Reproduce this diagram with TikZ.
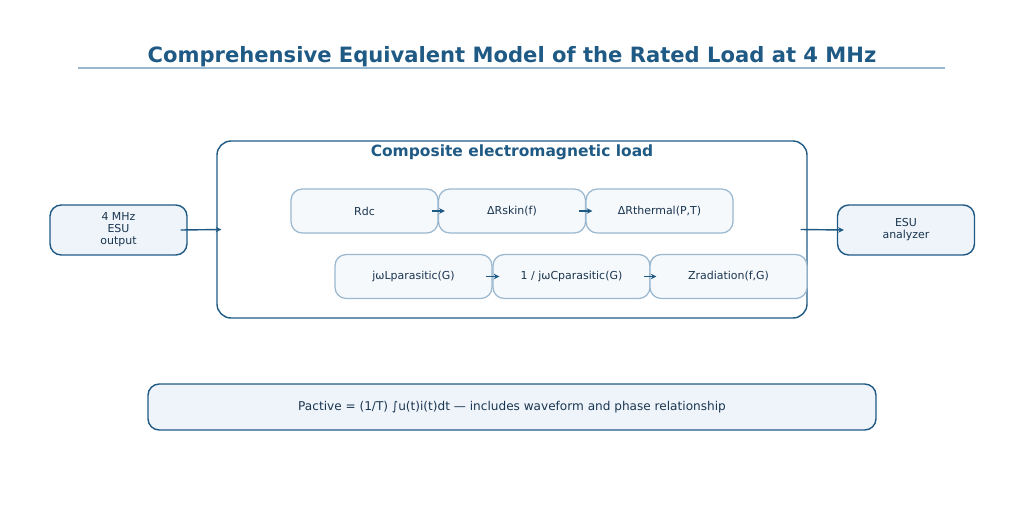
\documentclass[tikz,border=0pt]{standalone}
\usepackage{fontspec}
\setmainfont{DejaVu Sans}
\usepackage{tikz}
\usetikzlibrary{arrows.meta}
\usetikzlibrary{positioning}
\definecolor{darkblue}{HTML}{1F5A85}
\definecolor{lightline}{HTML}{9AB8CF}
\definecolor{lightfill}{HTML}{EEF4FA}
\definecolor{innerfill}{HTML}{F6F9FC}
\definecolor{textcol}{HTML}{1A3550}
\newcommand\pxu{0.025cm}
\tikzset{
	termbox/.style={draw=lightline, fill=innerfill, rounded corners=8pt, line width=0.9pt,
		minimum height=44*\pxu, text=textcol, font=\fontsize{7.8}{9}\selectfont, inner sep=0pt},
	iobox/.style={draw=darkblue, fill=lightfill, rounded corners=8pt, line width=1pt,
		minimum width=137*\pxu, minimum height=50*\pxu, text=textcol, align=center,
		font=\fontsize{7.8}{8.6}\selectfont, inner sep=0pt},
	flow/.style={-{Stealth[length=4pt, width=4pt]}, draw=darkblue, line width=1pt},
}
\begin{document}
\begin{tikzpicture}[x=\pxu, y=-\pxu]
	\useasboundingbox (0,0) rectangle (1024,507);
	% title
	\node[text=darkblue, font=\fontsize{15}{18}\bfseries\selectfont] (title) at (512,57) {Comprehensive Equivalent Model of the Rated Load at 4 MHz};
	\draw[lightline, line width=1pt] (78,68) -- (945,68);
	% composite load
	\node[draw=darkblue, line width=1pt, rounded corners=10pt, minimum width=590*\pxu, minimum height=177*\pxu] (load) at (512,229.5) {};
	\node[text=darkblue, font=\fontsize{11}{13}\bfseries\selectfont] (loadtitle) at (512,152) {Composite electromagnetic load};
	\node[termbox, minimum width=147*\pxu] (rdc) at (364.5,211) {Rdc};
	\node[termbox, minimum width=147*\pxu] (rskin) at (512,211) {ΔRskin(f)};
	\node[termbox, minimum width=147*\pxu] (rtherm) at (659.5,211) {ΔRthermal(P,T)};
	\node[termbox, minimum width=157*\pxu] (lpar) at (413.5,276.5) {jωLparasitic(G)};
	\node[termbox, minimum width=157*\pxu] (cpar) at (571.5,276.5) {1 / jωCparasitic(G)};
	\node[termbox, minimum width=157*\pxu] (zrad) at (728.5,276.5) {Zradiation(f,G)};
	\draw[flow] ([xshift=-7*\pxu]rdc.east) -- ([xshift=7*\pxu]rskin.west);
	\draw[flow] ([xshift=-7*\pxu]rskin.east) -- ([xshift=7*\pxu]rtherm.west);
	\draw[flow] ([xshift=-7*\pxu]lpar.east) -- ([xshift=7*\pxu]cpar.west);
	\draw[flow] ([xshift=-7*\pxu]cpar.east) -- ([xshift=7*\pxu]zrad.west);
	% source and analyzer
	\node[iobox] (esu) at (118.5,230) {4 MHz\\ESU\\output};
	\node[iobox] (analyzer) at (906,230) {ESU\\analyzer};
	\draw[flow] ([xshift=-7*\pxu]esu.east) -- ([xshift=5*\pxu]load.west);
	\draw[flow] ([xshift=-7*\pxu]load.east) -- ([xshift=7*\pxu]analyzer.west);
	% power formula
	\node[iobox, minimum width=728*\pxu, minimum height=46*\pxu, font=\fontsize{8.6}{10}\selectfont] (power) at (512,407) {Pactive = (1/T) ∫u(t)i(t)dt — includes waveform and phase relationship};
\end{tikzpicture}
\end{document}
